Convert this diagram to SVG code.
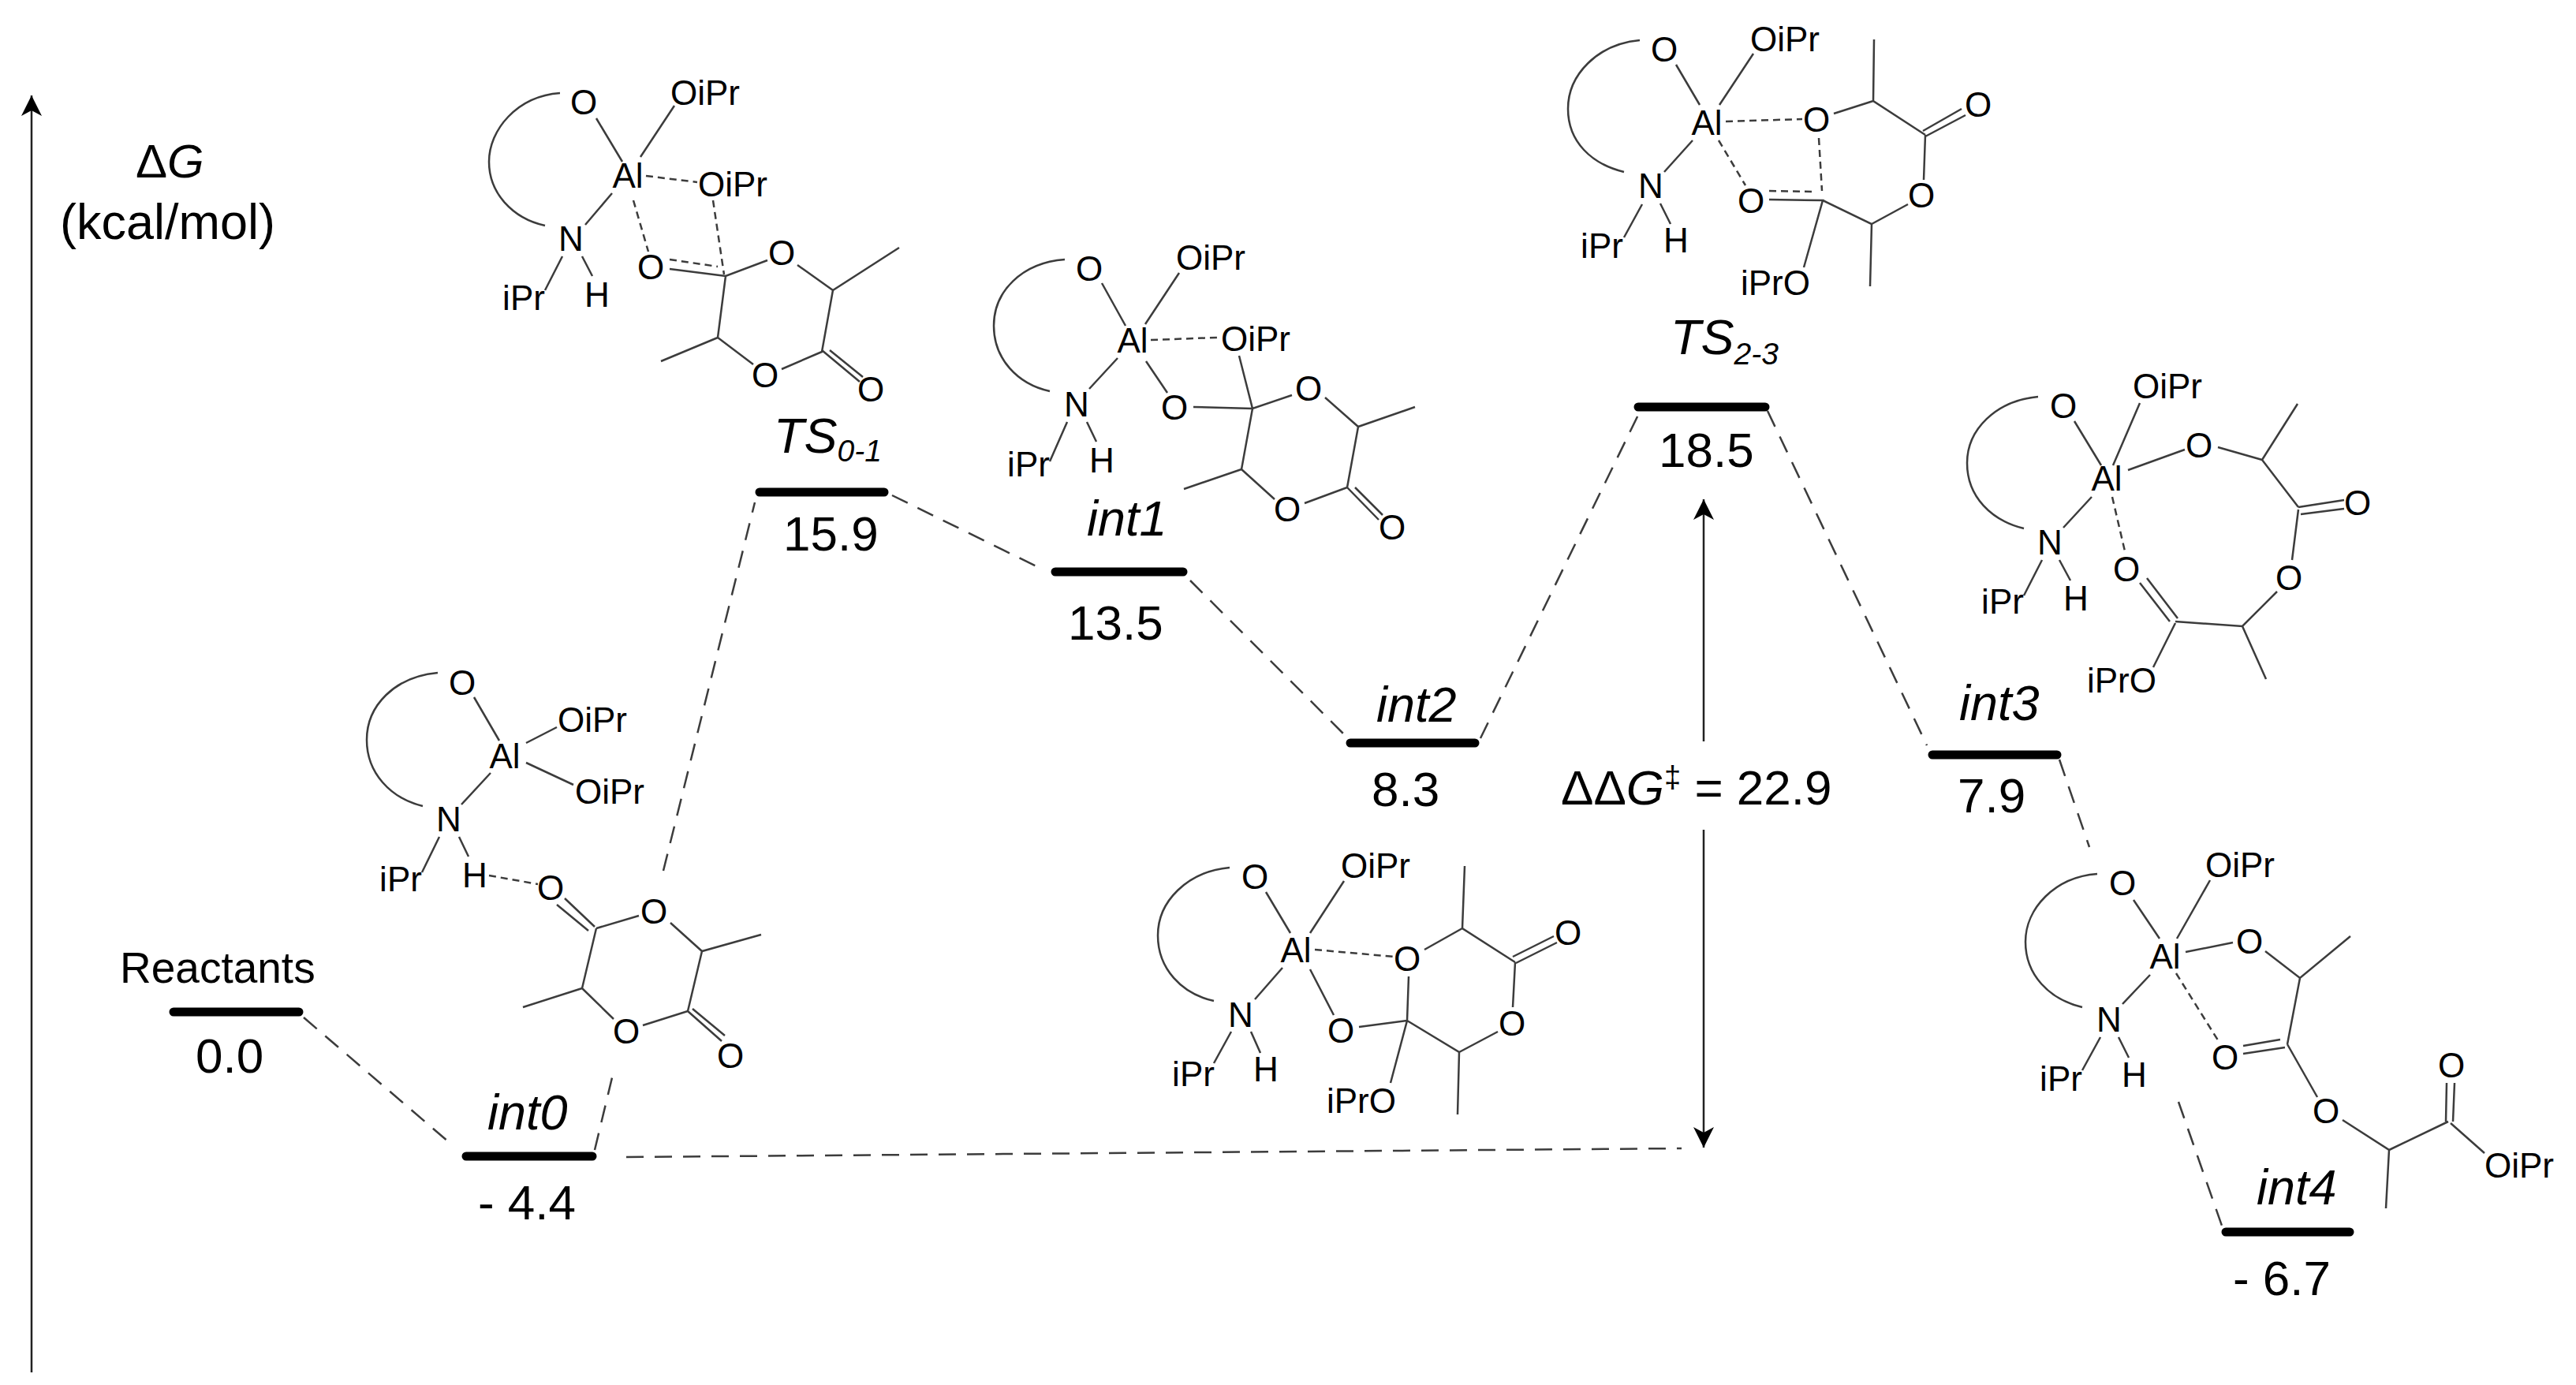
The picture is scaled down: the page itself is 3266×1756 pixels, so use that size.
<svg xmlns="http://www.w3.org/2000/svg" width="3266" height="1756" viewBox="0 0 3266 1756">
<style>
text{font-family:"Liberation Sans",Arial,sans-serif;fill:#000}
.a{font-size:44px;text-anchor:middle}
.l{font-size:62px}
.i{font-size:63px;font-style:italic}
.s{font-size:39px;font-style:italic}
.b{fill:none;stroke:#3c3c3c;stroke-width:2.5}
.d{fill:none;stroke:#3c3c3c;stroke-width:2.5;stroke-dasharray:9 6}
.c{fill:none;stroke:#3c3c3c;stroke-width:2.5;stroke-dasharray:22 14}
.ar{fill:none;stroke:#222;stroke-width:2.5}
.bar{stroke:#000;stroke-width:11;stroke-linecap:round;fill:none}
</style>
<defs>
<marker id="head" markerUnits="userSpaceOnUse" markerWidth="28" markerHeight="28" refX="26" refY="14" orient="auto"><path d="M0 1L26 14L0 27L7 14Z" fill="#000"/></marker>
</defs>
<rect width="3266" height="1756" fill="#fff"/>
<g id="connectors">
<path class="ar" d="M40 1740V121" marker-end="url(#head)"/>
<path class="ar" d="M2160 940V633" marker-end="url(#head)"/>
<path class="ar" d="M2160 1052V1455" marker-end="url(#head)"/>
<path class="c" d="M385 1290L569 1448"/>
<path class="c" d="M754 1458L778 1358"/>
<path class="c" d="M841 1104L957 637"/>
<path class="c" d="M1131 628L1316 719"/>
<path class="c" d="M1509 736L1709 936"/>
<path class="c" d="M1877 936L2079 522"/>
<path class="c" d="M2241 521L2443 945"/>
<path class="c" d="M2611 963L2649 1074"/>
<path class="c" d="M2762 1397L2817 1554"/>
<path class="c" d="M794 1467L2132 1456"/>
</g>
<g id="axis-label">
<text x="172" y="225" style="font-size:60px">Δ<tspan font-style="italic">G</tspan></text>
<text x="76" y="303" style="font-size:63px">(kcal/mol)</text>
</g>
<g id="level-reactants"><path class="bar" d="M220 1283H379"/><text x="152" y="1246" style="font-size:55px">Reactants</text><text x="248" y="1360" class="l">0.0</text></g>
<g id="level-int0"><path class="bar" d="M591 1466H751"/><text x="618" y="1432" class="i">int0</text><text x="606" y="1546" class="l">- 4.4</text></g>
<g id="level-ts01"><path class="bar" d="M963 624H1121"/><text x="981" y="574" class="i">TS<tspan class="s" dy="11">0-1</tspan></text><text x="993" y="698" class="l">15.9</text></g>
<g id="level-int1"><path class="bar" d="M1338 725H1500"/><text x="1378" y="679" class="i">int1</text><text x="1354" y="811" class="l">13.5</text></g>
<g id="level-int2"><path class="bar" d="M1712 942H1870"/><text x="1745" y="915" class="i">int2</text><text x="1739" y="1022" class="l">8.3</text></g>
<g id="level-ts23"><path class="bar" d="M2077 516H2238"/><text x="2118" y="449" class="i">TS<tspan class="s" dy="13">2-3</tspan></text><text x="2103" y="592" class="l">18.5</text></g>
<g id="level-int3"><path class="bar" d="M2450 957H2608"/><text x="2484" y="913" class="i">int3</text><text x="2482" y="1030" class="l">7.9</text></g>
<g id="level-int4"><path class="bar" d="M2822 1562H2979"/><text x="2861" y="1527" class="i">int4</text><text x="2831" y="1642" class="l">- 6.7</text></g>
<g id="barrier-label"><text x="1979" y="1020" class="l">ΔΔ<tspan font-style="italic">G</tspan><tspan font-size="38" dy="-22">‡</tspan><tspan dy="22"> = 22.9</tspan></text></g>
<g id="mol-int0">
<path class="b" d="M555 853C500 858 465 895 465 938C465 980 495 1012 536 1022M601 884L633 939M667 942L706 922M667 967L727 995M622 980L585 1020M557 1061L535 1106M582 1061L594 1086M754 1175L716 1139M746 1180L706 1147M756 1177L810 1161M850 1170L890 1206L965 1185M890 1206L872 1282L815 1300M872 1282L915 1320M878 1279L919 1313M778 1292L738 1253L756 1177M738 1253L663 1277"/>
<path class="d" d="M620 1110L682 1121"/>
<text class="a" x="586" y="881">O</text><text class="a" x="751" y="928">OiPr</text><text class="a" x="773" y="1019">OiPr</text><text class="a" x="640" y="974">Al</text><text class="a" x="569" y="1054">N</text><text class="a" x="508" y="1130">iPr</text><text class="a" x="602" y="1125">H</text><text class="a" x="698" y="1141">O</text><text class="a" x="829" y="1171">O</text><text class="a" x="794" y="1323">O</text><text class="a" x="926" y="1354">O</text>
</g>
<g id="mol-ts01">
<path class="b" d="M710 118C655 122 620 165 620 205C620 245 650 277 691 286M756 150L789 205M855 134L812 199M776 245L742 285M713 325L691 368M738 325L751 350M849 341L920 350L973 330M1011 336L1056 368L1140 314M1056 368L1042 446L991 468M1042 444L1090 484M1052 444L1094 478M955 462L910 428L920 350M910 428L838 458"/>
<path class="d" d="M819 223L884 231M803 254L822 319M904 254L918 348M849 329L910 338"/>
<text class="a" x="740" y="145">O</text><text class="a" x="894" y="133">OiPr</text><text class="a" x="796" y="238">Al</text><text class="a" x="929" y="249">OiPr</text><text class="a" x="724" y="318">N</text><text class="a" x="664" y="393">iPr</text><text class="a" x="757" y="389">H</text><text class="a" x="825" y="354">O</text><text class="a" x="991" y="336">O</text><text class="a" x="970" y="491">O</text><text class="a" x="1104" y="509">O</text>
</g>
<g id="mol-int1">
<path class="b" d="M1350 329C1295 333 1260 370 1260 413C1260 455 1290 487 1331 496M1397 359L1427 413M1495 346L1452 411M1417 454L1381 493M1453 458L1480 498M1353 535L1331 585M1378 535L1390 560M1513 516L1588 518L1638 501M1571 451L1588 518M1680 504L1722 541L1794 516M1722 541L1708 618L1654 638M1708 618L1748 659M1718 618L1753 653M1616 633L1574 595L1588 518M1574 595L1501 620"/>
<path class="d" d="M1459 431L1543 428"/>
<text class="a" x="1381" y="356">O</text><text class="a" x="1535" y="342">OiPr</text><text class="a" x="1436" y="447">Al</text><text class="a" x="1592" y="445">OiPr</text><text class="a" x="1365" y="528">N</text><text class="a" x="1304" y="604">iPr</text><text class="a" x="1397" y="599">H</text><text class="a" x="1489" y="532">O</text><text class="a" x="1659" y="508">O</text><text class="a" x="1632" y="661">O</text><text class="a" x="1765" y="684">O</text>
</g>
<g id="mol-int2">
<path class="b" d="M1559 1100C1505 1105 1468 1143 1468 1186C1468 1228 1498 1260 1539 1269M1605 1131L1636 1183M1704 1117L1661 1183M1626 1227L1591 1267M1661 1229L1691 1287M1561 1308L1539 1348M1586 1308L1598 1335M1723 1302L1784 1294M1786 1238L1784 1294L1763 1373M1784 1294L1850 1334L1848 1413M1850 1334L1899 1308M1918 1277L1921 1220M1918 1213L1970 1187M1922 1221L1974 1195M1921 1220L1854 1177L1857 1098M1854 1177L1806 1204"/>
<path class="d" d="M1667 1204L1768 1213"/>
<text class="a" x="1591" y="1127">O</text><text class="a" x="1744" y="1113">OiPr</text><text class="a" x="1643" y="1220">Al</text><text class="a" x="1784" y="1231">O</text><text class="a" x="1573" y="1302">N</text><text class="a" x="1513" y="1377">iPr</text><text class="a" x="1605" y="1371">H</text><text class="a" x="1700" y="1322">O</text><text class="a" x="1917" y="1313">O</text><text class="a" x="1988" y="1198">O</text><text class="a" x="1726" y="1411">iPrO</text>
</g>
<g id="mol-ts23">
<path class="b" d="M2079 51C2025 56 1988 95 1988 138C1988 180 2018 208 2059 218M2125 82L2155 133M2223 68L2180 133M2146 178L2110 218M2082 259L2059 301M2105 258L2118 284M2243 253L2311 254L2287 339M2311 254L2373 284L2371 363M2373 284L2419 259M2439 228L2441 171M2438 166L2487 138M2441 173L2492 146M2441 171L2375 128L2376 50M2375 128L2325 144"/>
<path class="d" d="M2188 154L2285 151M2179 178L2213 235M2306 175L2310 242M2243 242L2302 243"/>
<text class="a" x="2110" y="78">O</text><text class="a" x="2263" y="65">OiPr</text><text class="a" x="2164" y="171">Al</text><text class="a" x="2303" y="167">O</text><text class="a" x="2508" y="148">O</text><text class="a" x="2093" y="251">N</text><text class="a" x="2031" y="327">iPr</text><text class="a" x="2125" y="320">H</text><text class="a" x="2220" y="270">O</text><text class="a" x="2436" y="263">O</text><text class="a" x="2251" y="374">iPrO</text>
</g>
<g id="mol-int3">
<path class="b" d="M2584 503C2530 508 2494 545 2494 587C2494 630 2525 660 2566 670M2630 534L2664 590M2713 511L2679 590M2698 596L2770 570M2812 567L2868 583L2913 512M2868 583L2914 643M2914 643L2972 634M2917 652L2972 645M2914 646L2906 710M2887 750L2843 794L2758 788M2843 794L2873 861M2761 784L2722 733M2751 788L2713 739M2758 790L2730 846M2652 630L2616 669M2589 710L2566 755M2611 710L2625 736"/>
<path class="d" d="M2678 630L2695 703"/>
<text class="a" x="2616" y="530">O</text><text class="a" x="2748" y="505">OiPr</text><text class="a" x="2671" y="622">Al</text><text class="a" x="2788" y="580">O</text><text class="a" x="2599" y="703">N</text><text class="a" x="2539" y="778">iPr</text><text class="a" x="2632" y="774">H</text><text class="a" x="2696" y="737">O</text><text class="a" x="2989" y="653">O</text><text class="a" x="2902" y="748">O</text><text class="a" x="2690" y="878">iPrO</text>
</g>
<g id="mol-int4">
<path class="b" d="M2659 1108C2605 1112 2568 1152 2568 1194C2568 1236 2598 1267 2640 1277M2705 1141L2738 1190M2802 1116L2760 1190M2771 1207L2831 1195M2872 1206L2916 1240L2980 1187M2916 1240L2900 1324M2891 1318L2844 1326M2897 1328L2844 1336M2900 1324L2938 1391M2970 1420L3029 1458L3025 1532M3029 1458L3104 1422M3101 1422L3102 1373M3110 1422L3112 1373M3107 1424L3150 1462M2726 1236L2691 1273M2663 1315L2640 1357M2686 1315L2699 1341"/>
<path class="d" d="M2759 1234L2814 1322"/>
<text class="a" x="2691" y="1135">O</text><text class="a" x="2840" y="1112">OiPr</text><text class="a" x="2745" y="1228">Al</text><text class="a" x="2852" y="1209">O</text><text class="a" x="2674" y="1308">N</text><text class="a" x="2613" y="1383">iPr</text><text class="a" x="2706" y="1378">H</text><text class="a" x="2821" y="1356">O</text><text class="a" x="2949" y="1424">O</text><text class="a" x="3108" y="1366">O</text><text class="a" x="3194" y="1493">OiPr</text>
</g>
</svg>
